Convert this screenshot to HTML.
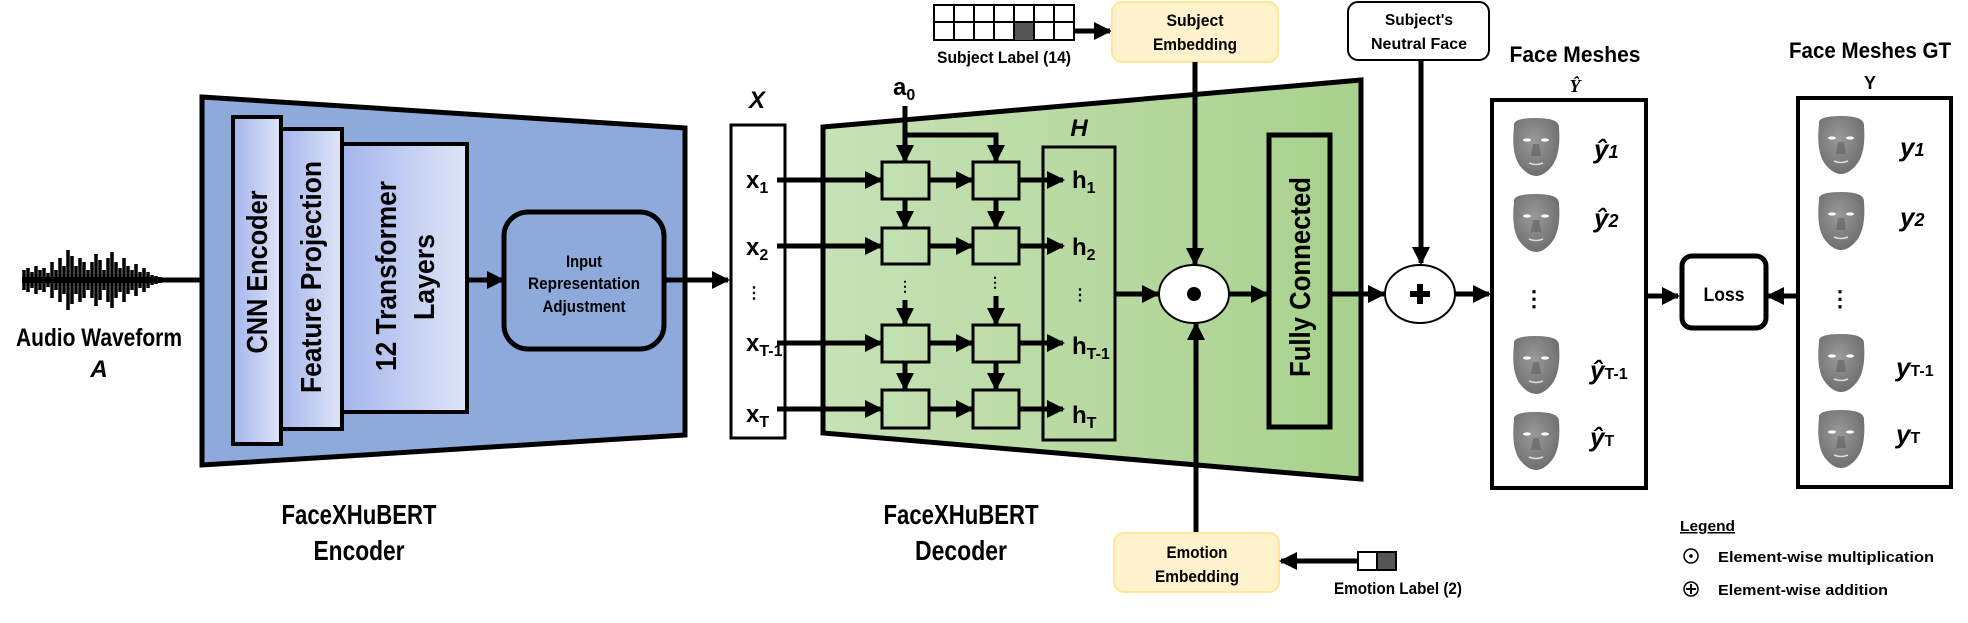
<!DOCTYPE html>
<html><head><meta charset="utf-8"><style>
html,body{margin:0;padding:0;background:#fff;width:1968px;height:623px;overflow:hidden}
svg{display:block}
text{font-family:"Liberation Sans Narrow","Liberation Sans",sans-serif;font-weight:bold;fill:#000}
.w{font-family:"Liberation Sans",sans-serif}
.m{font-family:"Liberation Serif",serif;font-style:italic;font-weight:bold}
</style></head><body>
<svg width="1968" height="623" viewBox="0 0 1968 623" xmlns="http://www.w3.org/2000/svg">
<defs>
<marker id="a" markerUnits="userSpaceOnUse" markerWidth="18" markerHeight="18" refX="16" refY="9" orient="auto"><path d="M0,0 L18,9 L0,18 Z" fill="#000"/></marker>
<linearGradient id="g1" x1="0" x2="1"><stop offset="0" stop-color="#a4b5ec"/><stop offset="1" stop-color="#dfe5f7"/></linearGradient>
<linearGradient id="gd" x1="0" x2="1"><stop offset="0" stop-color="#c7e2b6"/><stop offset="1" stop-color="#a8d18c"/></linearGradient>
<radialGradient id="fg" cx="0.45" cy="0.4" r="0.6"><stop offset="0" stop-color="#9a9a9a"/><stop offset="1" stop-color="#6f6f6f"/></radialGradient>
<g id="face"><path d="M-22,-22 Q-24,-30 0,-30 Q24,-30 23,-20 Q25,6 16,18 Q8,28 0,28 Q-8,28 -16,18 Q-25,6 -22,-22Z" fill="url(#fg)"/><ellipse cx="-9" cy="-8" rx="4" ry="1.6" fill="#fff"/><ellipse cx="9" cy="-8" rx="4" ry="1.6" fill="#fff"/><path d="M-3,-4 L-5,8 L5,8 L3,-4" fill="#555" opacity=".5"/><path d="M-7,15 Q0,18 7,15" stroke="#ddd" stroke-width="1.5" fill="none"/></g>
</defs>

<!-- waveform -->
<g stroke="#000" stroke-width="3.5">
<path d="M22,280 h140" stroke-width="6"/>
<path d="M24,270 v20 M28,268 v24 M32,272 v16 M36,266 v28 M40,270 v20 M44,268 v24 M48,273 v14 M52,262 v36 M56,270 v20 M60,258 v44 M64,266 v28 M68,250 v60 M72,256 v48 M76,266 v28 M80,258 v44 M84,262 v36 M88,270 v20 M92,262 v36 M96,254 v52 M100,260 v40 M104,270 v20 M108,258 v44 M112,252 v56 M116,262 v36 M120,268 v24 M124,258 v44 M128,266 v28 M132,270 v20 M136,264 v32 M140,272 v16 M144,268 v24 M148,272 v16 M152,275 v10 M156,276 v8"/>
</g>
<line x1="160" y1="280" x2="228" y2="280" stroke="#000" stroke-width="5" marker-end="url(#a)"/>
<text x="99" y="346" text-anchor="middle" font-size="25" textLength="166" lengthAdjust="spacingAndGlyphs">Audio Waveform</text>
<text x="99" y="377" text-anchor="middle" font-size="24" font-style="italic">A</text>

<!-- encoder -->
<polygon points="202,97 685,128 685,435 202,465" fill="#8eaadb" stroke="#000" stroke-width="5"/>
<rect x="233" y="117" width="48" height="327" fill="url(#g1)" stroke="#000" stroke-width="4"/>
<rect x="281" y="129" width="61" height="300" fill="url(#g1)" stroke="#000" stroke-width="4"/>
<rect x="342" y="144" width="125" height="268" fill="url(#g1)" stroke="#000" stroke-width="4"/>
<text class="w" transform="rotate(-90,257,272)" x="257" y="282" text-anchor="middle" font-size="29" textLength="163" lengthAdjust="spacingAndGlyphs">CNN Encoder</text>
<text class="w" transform="rotate(-90,311,277)" x="311" y="287" text-anchor="middle" font-size="29" textLength="232" lengthAdjust="spacingAndGlyphs">Feature Projection</text>
<text class="w" transform="rotate(-90,386,276)" x="386" y="286" text-anchor="middle" font-size="29" textLength="190" lengthAdjust="spacingAndGlyphs">12 Transformer</text>
<text class="w" transform="rotate(-90,424,277)" x="424" y="287" text-anchor="middle" font-size="29" textLength="86" lengthAdjust="spacingAndGlyphs">Layers</text>
<line x1="467" y1="280" x2="503" y2="280" stroke="#000" stroke-width="5" marker-end="url(#a)"/>
<rect x="504" y="212" width="160" height="137" rx="24" fill="#8eaadb" stroke="#000" stroke-width="5"/>
<text x="584" y="267" text-anchor="middle" font-size="17" textLength="36" lengthAdjust="spacingAndGlyphs">Input</text>
<text x="584" y="289" text-anchor="middle" font-size="17" textLength="112" lengthAdjust="spacingAndGlyphs">Representation</text>
<text x="584" y="312" text-anchor="middle" font-size="17" textLength="83" lengthAdjust="spacingAndGlyphs">Adjustment</text>
<line x1="664" y1="280" x2="728" y2="280" stroke="#000" stroke-width="5" marker-end="url(#a)"/>
<text x="359" y="524" text-anchor="middle" font-size="28" textLength="155" lengthAdjust="spacingAndGlyphs">FaceXHuBERT</text>
<text x="359" y="560" text-anchor="middle" font-size="28" textLength="91" lengthAdjust="spacingAndGlyphs">Encoder</text>

<!-- X box -->
<rect x="731" y="125" width="54" height="313" fill="#fff" stroke="#000" stroke-width="3"/>
<text x="757" y="108" text-anchor="middle" font-size="24" font-style="italic">X</text>
<g font-size="24">
<text x="746" y="188">x<tspan font-size="16" dy="5">1</tspan></text>
<text x="746" y="255">x<tspan font-size="16" dy="5">2</tspan></text>
<text x="746" y="298" font-size="16">⋮</text>
<text x="746" y="351">x<tspan font-size="16" dy="5">T-1</tspan></text>
<text x="746" y="422">x<tspan font-size="16" dy="5">T</tspan></text>
</g>

<!-- decoder -->
<polygon points="823,127 1361,80 1361,479 823,433" fill="url(#gd)" stroke="#000" stroke-width="5"/>
<g fill="none" stroke="#000" stroke-width="3">
<rect x="882" y="162" width="47" height="37"/><rect x="973" y="162" width="46" height="37"/>
<rect x="882" y="228" width="47" height="36"/><rect x="973" y="228" width="46" height="36"/>
<rect x="882" y="325" width="47" height="37"/><rect x="973" y="325" width="46" height="37"/>
<rect x="882" y="390" width="47" height="38"/><rect x="973" y="390" width="46" height="38"/>
<rect x="1043" y="147" width="72" height="293"/>
</g>
<g stroke="#000" stroke-width="5" marker-end="url(#a)">
<line x1="777" y1="180" x2="881" y2="180"/><line x1="777" y1="246" x2="881" y2="246"/><line x1="777" y1="343" x2="881" y2="343"/><line x1="777" y1="409" x2="881" y2="409"/>
<line x1="929" y1="180" x2="972" y2="180"/><line x1="929" y1="246" x2="972" y2="246"/><line x1="929" y1="343" x2="972" y2="343"/><line x1="929" y1="409" x2="972" y2="409"/>
<line x1="1019" y1="180" x2="1063" y2="180"/><line x1="1019" y1="246" x2="1063" y2="246"/><line x1="1019" y1="343" x2="1063" y2="343"/><line x1="1019" y1="409" x2="1063" y2="409"/>
<line x1="905" y1="199" x2="905" y2="227"/><line x1="996" y1="199" x2="996" y2="227"/>
<line x1="905" y1="362" x2="905" y2="389"/><line x1="996" y1="362" x2="996" y2="389"/>
<line x1="905" y1="300" x2="905" y2="324"/><line x1="996" y1="296" x2="996" y2="324"/>
<line x1="905" y1="106" x2="905" y2="161"/>
<polyline points="905,135 996,135 996,161" fill="none"/>
</g>
<text x="905" y="291" text-anchor="middle" font-size="14">⋮</text><text x="995" y="287" text-anchor="middle" font-size="14">⋮</text>
<text x="893" y="95" font-size="24">a<tspan font-size="16" dy="5">0</tspan></text>
<text x="1079" y="136" text-anchor="middle" font-size="24" font-style="italic">H</text>
<g font-size="24">
<text x="1072" y="188">h<tspan font-size="16" dy="5">1</tspan></text>
<text x="1072" y="255">h<tspan font-size="16" dy="5">2</tspan></text>
<text x="1072" y="300" font-size="16">⋮</text>
<text x="1072" y="354">h<tspan font-size="16" dy="5">T-1</tspan></text>
<text x="1072" y="423">h<tspan font-size="16" dy="5">T</tspan></text>
</g>
<line x1="1115" y1="294" x2="1158" y2="294" stroke="#000" stroke-width="5" marker-end="url(#a)"/>
<ellipse cx="1194" cy="294" rx="35" ry="29" fill="#fff" stroke="#000" stroke-width="2"/>
<circle cx="1194" cy="294" r="7" fill="#000"/>
<line x1="1229" y1="294" x2="1267" y2="294" stroke="#000" stroke-width="5" marker-end="url(#a)"/>
<rect x="1269" y="135" width="61" height="292" fill="none" stroke="#000" stroke-width="5"/>
<text class="w" transform="rotate(-90,1300,277)" x="1300" y="287" text-anchor="middle" font-size="29" textLength="200" lengthAdjust="spacingAndGlyphs">Fully Connected</text>
<text x="961" y="524" text-anchor="middle" font-size="28" textLength="155" lengthAdjust="spacingAndGlyphs">FaceXHuBERT</text>
<text x="961" y="560" text-anchor="middle" font-size="28" textLength="92" lengthAdjust="spacingAndGlyphs">Decoder</text>

<!-- subject label -->
<rect x="934" y="5" width="140" height="35" fill="#fff" stroke="#000" stroke-width="2"/>
<rect x="1015" y="22" width="20" height="18" fill="#555"/>
<g stroke="#000" stroke-width="2"><path d="M934,22 H1074 M954,5 V40 M974,5 V40 M994,5 V40 M1014,5 V40 M1034,5 V40 M1054,5 V40"/></g>
<text x="1004" y="63" text-anchor="middle" font-size="17" textLength="134" lengthAdjust="spacingAndGlyphs">Subject Label (14)</text>
<line x1="1074" y1="31" x2="1110" y2="31" stroke="#000" stroke-width="5" marker-end="url(#a)"/>
<rect x="1112" y="2" width="166" height="60" rx="10" fill="#fff2cc" stroke="#ffe699" stroke-width="2"/>
<text x="1195" y="26" text-anchor="middle" font-size="17" textLength="57" lengthAdjust="spacingAndGlyphs">Subject</text>
<text x="1195" y="50" text-anchor="middle" font-size="17" textLength="84" lengthAdjust="spacingAndGlyphs">Embedding</text>
<line x1="1195" y1="62" x2="1195" y2="264" stroke="#000" stroke-width="5" marker-end="url(#a)"/>
<line x1="1196" y1="532" x2="1196" y2="324" stroke="#000" stroke-width="5" marker-end="url(#a)"/>
<rect x="1114" y="533" width="165" height="59" rx="10" fill="#fff2cc" stroke="#ffe699" stroke-width="2"/>
<text x="1197" y="558" text-anchor="middle" font-size="17" textLength="61" lengthAdjust="spacingAndGlyphs">Emotion</text>
<text x="1197" y="582" text-anchor="middle" font-size="17" textLength="84" lengthAdjust="spacingAndGlyphs">Embedding</text>
<line x1="1358" y1="561" x2="1281" y2="561" stroke="#000" stroke-width="5" marker-end="url(#a)"/>
<rect x="1358" y="552" width="19" height="18" fill="#fff" stroke="#000" stroke-width="2"/>
<rect x="1377" y="552" width="19" height="18" fill="#555" stroke="#000" stroke-width="2"/>
<text x="1398" y="594" text-anchor="middle" font-size="17" textLength="128" lengthAdjust="spacingAndGlyphs">Emotion Label (2)</text>

<!-- neutral face -->
<rect x="1348" y="2" width="141" height="58" rx="10" fill="#fff" stroke="#000" stroke-width="2"/>
<text x="1419" y="25" text-anchor="middle" font-size="16" textLength="68" lengthAdjust="spacingAndGlyphs">Subject's</text>
<text x="1419" y="49" text-anchor="middle" font-size="16" textLength="96" lengthAdjust="spacingAndGlyphs">Neutral Face</text>
<line x1="1421" y1="60" x2="1421" y2="263" stroke="#000" stroke-width="5" marker-end="url(#a)"/>
<line x1="1330" y1="294" x2="1384" y2="294" stroke="#000" stroke-width="5" marker-end="url(#a)"/>
<ellipse cx="1420" cy="294" rx="35" ry="29" fill="#fff" stroke="#000" stroke-width="2"/>
<path d="M1420,284 V304 M1410,294 H1430" stroke="#000" stroke-width="6"/>
<line x1="1455" y1="294" x2="1489" y2="294" stroke="#000" stroke-width="5" marker-end="url(#a)"/>

<!-- face meshes -->
<text x="1575" y="62" text-anchor="middle" font-size="22" class="w" textLength="131" lengthAdjust="spacingAndGlyphs">Face Meshes</text>
<text x="1575" y="92" text-anchor="middle" font-size="18" class="m" font-weight="normal">Ŷ</text>
<rect x="1492" y="100" width="154" height="388" fill="#fff" stroke="#000" stroke-width="4"/>
<use href="#face" x="1536" y="148"/><use href="#face" x="1536" y="224"/><use href="#face" x="1536" y="366"/><use href="#face" x="1536" y="442"/>
<text x="1534" y="306" text-anchor="middle" font-size="22" font-weight="normal">⋮</text>
<g class="m" font-size="26">
<text x="1594" y="158">ŷ<tspan font-size="18">1</tspan></text>
<text x="1594" y="227">ŷ<tspan font-size="18">2</tspan></text>
<text x="1590" y="379">ŷ<tspan font-size="16" font-style="normal" font-family="Liberation Sans">T-1</tspan></text>
<text x="1590" y="446">ŷ<tspan font-size="16" font-style="normal" font-family="Liberation Sans">T</tspan></text>
</g>
<line x1="1646" y1="296" x2="1678" y2="296" stroke="#000" stroke-width="5" marker-end="url(#a)"/>
<rect x="1682" y="256" width="84" height="72" rx="10" fill="#fff" stroke="#000" stroke-width="5"/>
<text x="1724" y="301" text-anchor="middle" font-size="19" textLength="41" lengthAdjust="spacingAndGlyphs">Loss</text>
<line x1="1797" y1="296" x2="1768" y2="296" stroke="#000" stroke-width="5" marker-end="url(#a)"/>
<text x="1870" y="58" text-anchor="middle" font-size="22" class="w" textLength="162" lengthAdjust="spacingAndGlyphs">Face Meshes GT</text>
<text x="1870" y="89" text-anchor="middle" font-size="18" class="w">Y</text>
<rect x="1798" y="98" width="153" height="389" fill="#fff" stroke="#000" stroke-width="4"/>
<use href="#face" x="1841" y="146"/><use href="#face" x="1841" y="222"/><use href="#face" x="1841" y="364"/><use href="#face" x="1841" y="440"/>
<text x="1840" y="306" text-anchor="middle" font-size="22" font-weight="normal">⋮</text>
<g class="m" font-size="26">
<text x="1900" y="156">y<tspan font-size="18">1</tspan></text>
<text x="1900" y="226">y<tspan font-size="18">2</tspan></text>
<text x="1896" y="376">y<tspan font-size="16" font-style="normal" font-family="Liberation Sans">T-1</tspan></text>
<text x="1896" y="443">y<tspan font-size="16" font-style="normal" font-family="Liberation Sans">T</tspan></text>
</g>

<!-- legend -->
<text x="1680" y="531" font-size="15" text-decoration="underline" textLength="55" lengthAdjust="spacingAndGlyphs">Legend</text>
<circle cx="1691" cy="556" r="7" fill="none" stroke="#000" stroke-width="1.5"/><circle cx="1691" cy="556" r="1.8" fill="#000"/>
<text x="1718" y="562" font-size="15" textLength="216" lengthAdjust="spacingAndGlyphs">Element-wise multiplication</text>
<circle cx="1691" cy="589" r="7" fill="none" stroke="#000" stroke-width="1.5"/><path d="M1691,584 V594 M1686,589 H1696" stroke="#000" stroke-width="2"/>
<text x="1718" y="595" font-size="15" textLength="170" lengthAdjust="spacingAndGlyphs">Element-wise addition</text>
</svg>
</body></html>
